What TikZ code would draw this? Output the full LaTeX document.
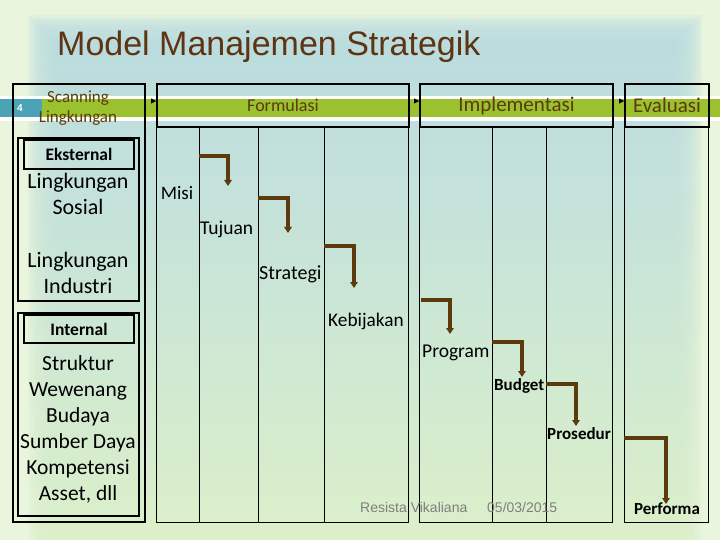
\documentclass[tikz,border=0pt]{standalone}
\usepackage{fontspec}
\setmainfont{Carlito}
\newfontfamily\arialf{Liberation Sans}
\usetikzlibrary{arrows.meta}
\definecolor{bgedge}{HTML}{E9F5DC}
\definecolor{bgtop}{HTML}{B9DCE3}
\definecolor{bgmid}{HTML}{CBE7D2}
\definecolor{bgbot}{HTML}{DDF0C8}
\definecolor{bandc}{HTML}{9BC12E}
\definecolor{tealc}{HTML}{4BA3B6}
\definecolor{brownc}{HTML}{5C3A0E}
\definecolor{titlec}{HTML}{5E3512}
\definecolor{footc}{HTML}{7F7F7F}
\begin{document}
\begin{tikzpicture}[x=1pt,y=-1pt,
  box/.style={draw=black, line width=2pt, inner sep=0pt, anchor=north west},
  colbox/.style={draw=black, line width=0.9pt, inner sep=0pt, anchor=north west},
  colline/.style={draw=black, line width=0.9pt},
  hdr/.style={text=brownc},
  lbl/.style={inner sep=0pt, text=black},
  elbow/.style={draw=brownc, line width=3.2pt, -{Triangle[length=6pt,width=7.5pt]}},
  link/.style={draw=black, line width=0.4pt, -{Triangle[length=5pt,width=5pt]}, shorten <=6pt}]
\useasboundingbox (0,0) rectangle (720,540);
% background
\fill[bgedge] (0,0) rectangle (720,540);
\foreach \i in {0,...,11} {
  \shade[top color=bgtop, middle color=bgmid, bottom color=bgbot, fill opacity=0.2]
    ({28+\i*2.5},{16+\i*2.5}) rectangle ({702-\i*2.5},560);
}
% band
\fill[white] (0,96) rectangle (720,121);
\fill[bandc] (42,99.5) rectangle (720,117.5);
\fill[tealc] (0,99.5) rectangle (42,117.5);
\node[text=white, font=\arialf\bfseries\fontsize{10}{12}\selectfont] (num) at (20,108.5) {4};
% title
\node[anchor=base west, inner sep=0pt, text=titlec, font=\arialf\fontsize{34}{40}\selectfont] (title) at (57,56) {Model Manajemen Strategik};
% scanning box
\node[box, minimum width=132pt, minimum height=438pt] (scan) at (12,83) {};
\node[hdr, inner sep=0pt, align=center, font=\fontsize{17}{20}\selectfont] (scantxt) at (78,108) {Scanning\\Lingkungan};
\node[box, minimum width=121pt, minimum height=163pt] (ekgrp) at (17,137) {};
\node[box, minimum width=110pt, minimum height=29pt, font=\bfseries\fontsize{17.5}{20}\selectfont] (ekhdr) at (23,139) {Eksternal};
\node[lbl, align=center, font=\fontsize{22}{26}\selectfont] (sosial) at (78,194) {Lingkungan\\Sosial};
\node[lbl, align=center, font=\fontsize{22}{26}\selectfont] (industri) at (78,272.5) {Lingkungan\\Industri};
\node[box, minimum width=121pt, minimum height=203pt] (ingrp) at (17,312) {};
\node[box, minimum width=110pt, minimum height=28pt, font=\bfseries\fontsize{17.5}{20}\selectfont] (inhdr) at (23,314) {Internal};
\node[lbl, align=center, font=\fontsize{21.5}{26}\selectfont] (internal) at (78,429) {Struktur\\Wewenang\\Budaya\\Sumber Daya\\Kompetensi\\Asset, dll};
% phase boxes
\node[box, hdr, minimum width=252pt, minimum height=43pt, font=\fontsize{18}{22}\selectfont] (form) at (156,83) {Formulasi};
\node[box, hdr, minimum width=193pt, minimum height=43pt, font=\fontsize{21}{25}\selectfont] (impl) at (419,83) {Implementasi};
\node[box, hdr, minimum width=84pt, minimum height=43pt, font=\fontsize{21}{25}\selectfont] (eval) at (624,83) {Evaluasi};
\coordinate (row) at (0,101);
\draw[link] (scan.east |- row) -- (form.west |- row);
\draw[link] (form.east |- row) -- (impl.west |- row);
\draw[link] (impl.east |- row) -- (eval.west |- row);
% columns
\node[colbox, minimum width=252pt, minimum height=396pt] (fcol) at (156,126) {};
\node[colbox, minimum width=193pt, minimum height=396pt] (icol) at (419,126) {};
\node[colbox, minimum width=84pt, minimum height=396pt] (ecol) at (624,126) {};
\foreach \x in {199,258,324} \draw[colline] (\x,126) -- (\x,522);
\foreach \x in {492,546} \draw[colline] (\x,126) -- (\x,522);
% labels
\node[lbl, anchor=base, font=\fontsize{19}{22}\selectfont] (misi) at (177,200) {Misi};
\node[lbl, anchor=base west, font=\fontsize{19.5}{22}\selectfont] (tujuan) at (200,234) {Tujuan};
\node[lbl, anchor=base west, font=\fontsize{20}{22}\selectfont] (strategi) at (259,279) {Strategi};
\node[lbl, anchor=base west, font=\fontsize{19.3}{22}\selectfont] (kebijakan) at (328,326) {Kebijakan};
\node[lbl, anchor=base west, font=\fontsize{19.5}{22}\selectfont] (program) at (422,357) {Program};
\node[lbl, anchor=base west, font=\bfseries\fontsize{17}{20}\selectfont] (budget) at (494,390) {Budget};
\node[lbl, anchor=base west, font=\bfseries\fontsize{17}{20}\selectfont] (prosedur) at (547,439) {Prosedur};
\node[lbl, anchor=base, font=\bfseries\fontsize{17}{20}\selectfont] (performa) at (667,514) {Performa};
% elbow arrows
\coordinate (s1) at (199,156); \coordinate (e1) at (228,186);
\coordinate (s2) at (258,198); \coordinate (e2) at (288,233);
\coordinate (s3) at (324,246); \coordinate (e3) at (354,288);
\coordinate (s4) at (421,300); \coordinate (e4) at (450,334);
\coordinate (s5) at (492,342); \coordinate (e5) at (522,377);
\coordinate (s6) at (546,384); \coordinate (e6) at (576,426);
\coordinate (s7) at (624,438); \coordinate (e7) at (666,504);
\foreach \k in {1,...,7} \draw[elbow] (s\k) -| (e\k);
% footer
\node[anchor=base west, inner sep=0pt, text=footc, font=\arialf\fontsize{14}{16}\selectfont] (author) at (360,512) {Resista Vikaliana};
\node[anchor=base west, inner sep=0pt, text=footc, font=\arialf\fontsize{14}{16}\selectfont] (date) at (487,512) {05/03/2015};
\end{tikzpicture}
\end{document}
